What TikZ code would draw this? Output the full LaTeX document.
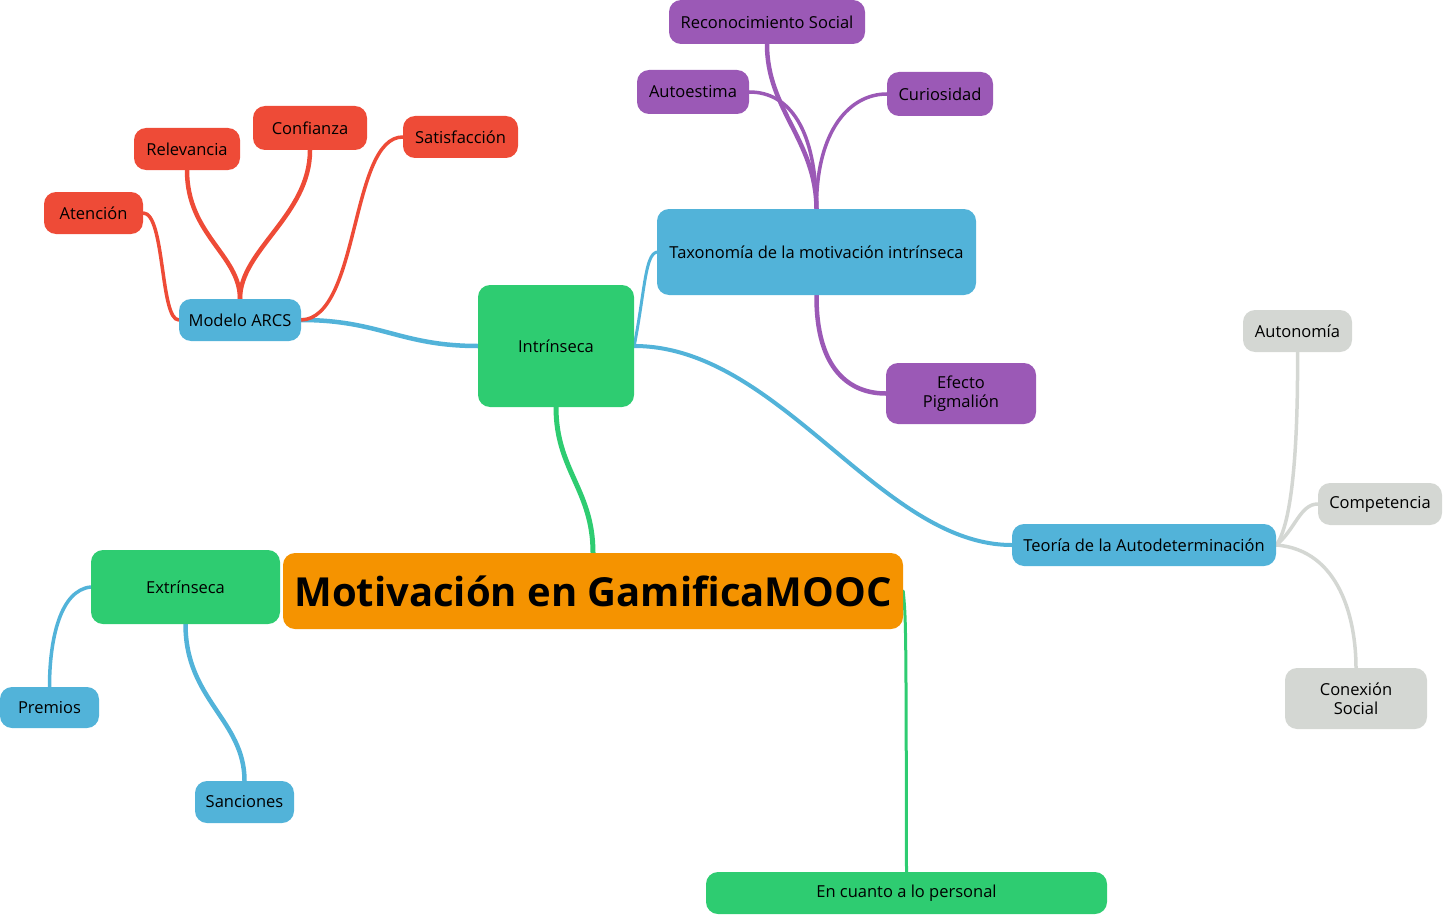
\documentclass[tikz,border=0pt]{standalone}
\usepackage{fontspec}
\setmainfont{Open Sans}
\usetikzlibrary{backgrounds}
\definecolor{cOrange}{HTML}{F59300}
\definecolor{cGreen}{HTML}{2ECC71}
\definecolor{cBlue}{HTML}{52B3D9}
\definecolor{cRed}{HTML}{EE4B37}
\definecolor{cPurple}{HTML}{9B59B6}
\definecolor{cGrey}{HTML}{D4D7D3}
\tikzset{
  box/.style={rectangle, rounded corners=12pt, inner sep=0pt, align=center,
    font=\fontsize{16.5}{19}\selectfont, text=black},
  link/.style={line width=3.5pt, line cap=round}
}
\newcommand{\bx}[7]{% name, x1, y1, x2, y2, color, text
  \node[box, fill=#6, minimum width={#4-#2}, minimum height={#5-#3}] (#1) at ({(#2+#4)/2},{(#3+#5)/2}) {#7};}
\begin{document}
\begin{tikzpicture}[x=1pt,y=-1pt]
\useasboundingbox (0,0) rectangle (1443,915);
% nodes
\node[box, fill=cOrange, minimum width=620, minimum height=76, font=\fontsize{40}{46}\selectfont\bfseries] (title) at (593,591) {Motivación en GamificaMOOC};
\bx{intr}{478}{285}{634}{407}{cGreen}{Intrínseca}
\bx{extr}{91}{550}{280}{624}{cGreen}{Extrínseca}
\bx{pers}{706}{872}{1107}{914}{cGreen}{En cuanto a lo personal}
\bx{tax}{657}{209}{976}{295}{cBlue}{Taxonomía de la motivación intrínseca}
\bx{arcs}{179}{299}{301}{341}{cBlue}{Modelo ARCS}
\bx{teo}{1012}{524}{1276}{566}{cBlue}{Teoría de la Autodeterminación}
\bx{prem}{0}{687}{99}{728}{cBlue}{Premios}
\bx{sanc}{195}{781}{294}{823}{cBlue}{Sanciones}
\bx{aten}{44}{192}{143}{234}{cRed}{Atención}
\bx{rele}{134}{128}{240}{170}{cRed}{Relevancia}
\bx{conf}{253}{106}{367}{150}{cRed}{Confianza}
\bx{sati}{403}{116}{518}{158}{cRed}{Satisfacción}
\bx{reco}{669}{0}{865}{44}{cPurple}{Reconocimiento Social}
\bx{auto}{637}{70}{749}{114}{cPurple}{Autoestima}
\bx{curi}{887}{72}{993}{116}{cPurple}{Curiosidad}
\bx{efec}{886}{363}{1036}{424}{cPurple}{Efecto\\Pigmalión}
\bx{autn}{1243}{310}{1352}{352}{cGrey}{Autonomía}
\bx{comp}{1318}{483}{1442}{525}{cGrey}{Competencia}
\bx{cone}{1285}{668}{1427}{729}{cGrey}{Conexión\\Social}
% connectors
\begin{pgfonlayer}{background}
\draw[link, cGreen, line width=5pt] (title.north) .. controls (593,490) and (556,470) .. (intr.south);
\draw[link, cGreen, line width=3pt] (title.east) .. controls (906,620) .. (pers.north);
\draw[link, cBlue, line width=4.5pt] (intr.west) .. controls (400,346) and (380,320) .. (arcs.east);
\draw[link, cBlue, line width=3pt] (intr.east) .. controls (645,290) and (645,255) .. (tax.west);
\draw[link, cBlue, line width=4pt] (intr.east) .. controls (780,346) and (880,545) .. (teo.west);
\draw[link, cRed] (arcs.west) .. controls (160,320) and (165,213) .. (aten.east);
\draw[link, cRed, line width=4.5pt] (arcs.north) .. controls (240,255) and (187,235) .. (rele.south);
\draw[link, cRed, line width=4.5pt] (arcs.north) .. controls (240,250) and (310,215) .. (conf.south);
\draw[link, cRed] (arcs.east) .. controls (360,318) and (350,137) .. (sati.west);
\draw[link, cPurple, line width=4.5pt] (tax.north) .. controls (816,140) and (767,110) .. (reco.south);
\draw[link, cPurple] (tax.north) .. controls (816,130) and (790,92) .. (auto.east);
\draw[link, cPurple] (tax.north) .. controls (816,130) and (850,94) .. (curi.west);
\draw[link, cPurple, line width=4.5pt] (tax.south) .. controls (816,370) and (850,393.5) .. (efec.west);
\draw[link, cGrey] (teo.east) .. controls (1295,520) and (1298,420) .. (autn.south);
\draw[link, cGrey] (teo.east) .. controls (1295,530) and (1300,504) .. (comp.west);
\draw[link, cGrey] (teo.east) .. controls (1340,550) and (1356,620) .. (cone.north);
\draw[link, cBlue] (extr.west) .. controls (60,590) and (49.5,640) .. (prem.north);
\draw[link, cBlue, line width=4.5pt] (extr.south) .. controls (185.5,700) and (244.5,720) .. (sanc.north);
\end{pgfonlayer}
\end{tikzpicture}
\end{document}
